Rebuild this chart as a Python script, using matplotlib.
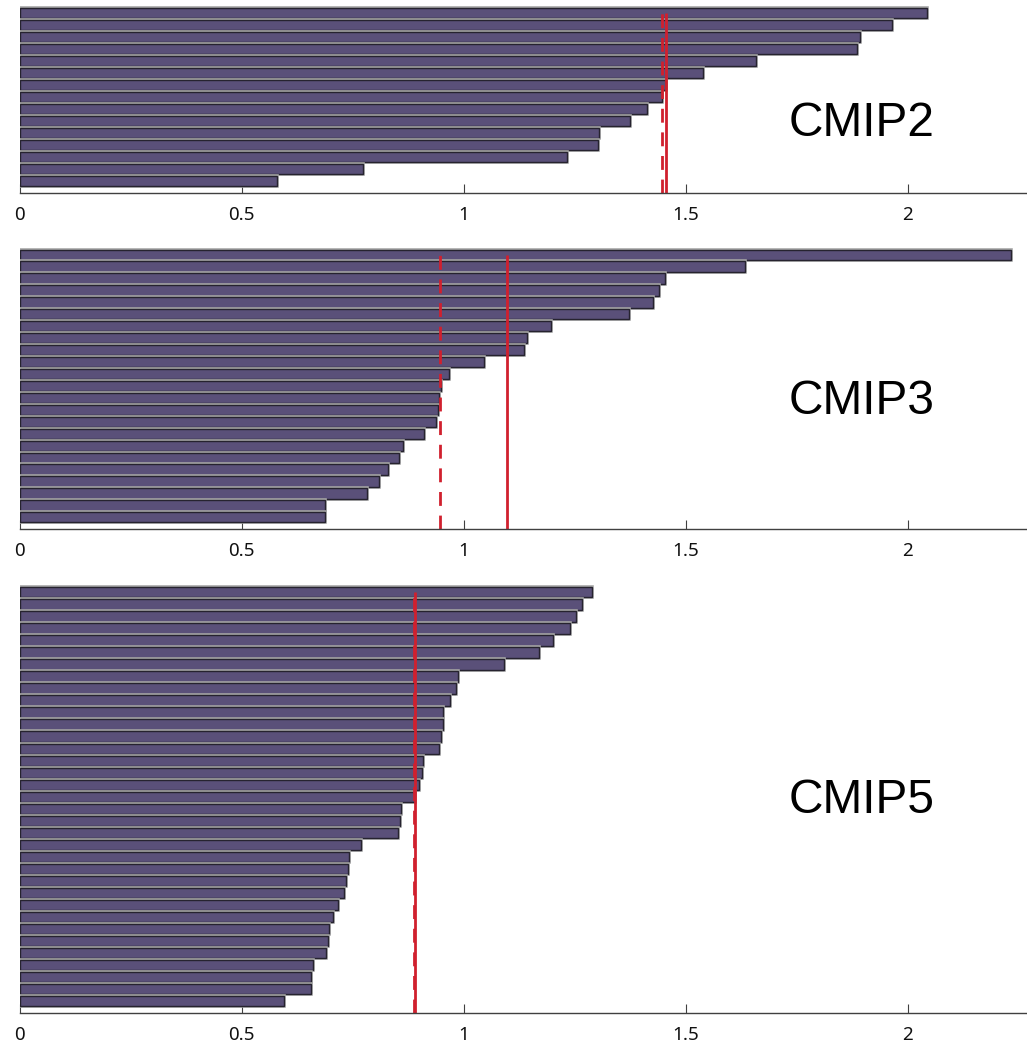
import matplotlib
matplotlib.use("Agg")
import matplotlib.pyplot as plt
import matplotlib.patheffects as pe
import numpy as np

# ---- data (listed top bar to bottom bar) ----
cmip2_values = [2.043, 1.965, 1.892, 1.886, 1.658, 1.540, 1.456, 1.448, 1.414,
                1.376, 1.304, 1.302, 1.234, 0.774, 0.581]
cmip2_mean = 1.457
cmip2_median = 1.448

cmip3_values = [2.232, 1.633, 1.453, 1.441, 1.426, 1.373, 1.198, 1.142, 1.136,
                1.047, 0.968, 0.950, 0.944, 0.942, 0.938, 0.912, 0.864, 0.854,
                0.829, 0.810, 0.782, 0.689, 0.689]
cmip3_mean = 1.099
cmip3_median = 0.948

cmip5_values = [1.289, 1.266, 1.253, 1.239, 1.202, 1.170, 1.092, 0.987, 0.982,
                0.969, 0.954, 0.954, 0.950, 0.945, 0.908, 0.906, 0.899, 0.890,
                0.860, 0.858, 0.853, 0.769, 0.742, 0.740, 0.735, 0.730, 0.717,
                0.705, 0.698, 0.694, 0.691, 0.662, 0.657, 0.657, 0.595]
cmip5_mean = 0.891
cmip5_median = 0.889

panel_labels = ["CMIP2", "CMIP3", "CMIP5"]
x_ticks = [0, 0.5, 1, 1.5, 2]
x_tick_labels = ["0", "0.5", "1", "1.5", "2"]

# ---- styling ----
W, H = 1027, 1047
fig = plt.figure(figsize=(W / 100, H / 100), dpi=100)

bar_color = "#5a5079"
edge_color = "#26232f"
red = "#d0202e"
left_px = 19.5
xmax = 2.269

# (top_px, bottom_px, label baseline fraction)
panels = [
    (cmip2_values, cmip2_mean, cmip2_median, 1.3, 193.3, 0.298),
    (cmip3_values, cmip3_mean, cmip3_median, 242.7, 529.3, 0.402),
    (cmip5_values, cmip5_mean, cmip5_median, 580.3, 1013.3, 0.463),
]

for (vals, mean_v, med_v, top_px, bot_px, ty), label in zip(panels, panel_labels):
    ax = fig.add_axes([left_px / W, 1 - bot_px / H, (W - left_px) / W, (bot_px - top_px) / H])
    n = len(vals)
    ypos = np.arange(n, 0, -1)
    bars = ax.barh(ypos, vals, height=0.86, color=bar_color, edgecolor=edge_color,
                   linewidth=1.0, zorder=2)
    for b in bars:
        b.set_path_effects([pe.Stroke(linewidth=2.6, foreground="#a6a6a6"), pe.Normal()])
    ax.vlines(mean_v, 0, n, colors=red, linewidth=2.0, zorder=3)
    ax.vlines(med_v, 0, n, colors=red, linewidth=2.0, linestyles=(0, (5, 3.5)), zorder=3)
    ax.set_xlim(0, xmax)
    ax.set_ylim(0, n + 1)
    for s in ["top", "right", "left"]:
        ax.spines[s].set_visible(False)
    ax.spines["bottom"].set_color("#404040")
    ax.spines["bottom"].set_linewidth(1.0)
    ax.spines["bottom"].set_zorder(4)
    ax.set_yticks([])
    ax.set_xticks(x_ticks)
    ax.set_xticklabels(x_tick_labels, fontsize=13.5, family="Noto Sans", color="#111111")
    ax.tick_params(axis="x", direction="in", length=6.5, width=0.8, color="#404040", pad=9)
    ax.patch.set_alpha(0)
    ax.text(0.836, ty, label, transform=ax.transAxes, ha="center", va="baseline",
            fontsize=34.5, family="Liberation Sans", color="black")

fig.savefig("out.png", dpi=100)
